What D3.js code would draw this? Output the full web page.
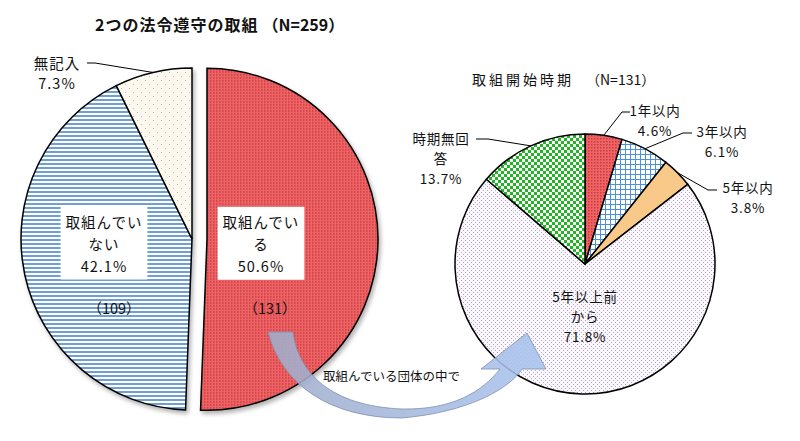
<!DOCTYPE html>
<html><head><meta charset="utf-8">
<script src="https://cdn.jsdelivr.net/npm/d3@7"></script>
<style>
body{margin:0;background:#fff;}
svg{display:block;font-family:"Noto Sans CJK JP","Noto Sans",sans-serif;}
</style>
</head><body>
<script>
// ---------- data ----------
const leftTitle = "2つの法令遵守の取組";
const leftN = "（N=259）";
const leftCategories = ["取組んでいる", "取組んでいない", "無記入"];
const leftValues = [50.6, 42.1, 7.3];
const leftCounts = ["（131）", "（109）", null];

const rightTitle = "取組開始時期";
const rightN = "（N=131）";
const rightCategories = ["1年以内", "3年以内", "5年以内", "5年以上前から", "時期無回答"];
const rightValues = [4.6, 6.1, 3.8, 71.8, 13.7];

const arrowLabel = "取組んでいる団体の中で";

// ---------- setup ----------
const W = 800, H = 441;
const svg = d3.select("body").append("svg").attr("width", W).attr("height", H);
const defs = svg.append("defs");

function pat(id, w, h, build) {
  const p = defs.append("pattern").attr("id", id).attr("patternUnits", "userSpaceOnUse")
    .attr("width", w).attr("height", h);
  build(p);
}
pat("redDots", 3, 3, p => {
  p.append("rect").attr("width", 3).attr("height", 3).attr("fill", "#f06466");
  p.append("rect").attr("width", 1.5).attr("height", 1.5).attr("fill", "#c53b3e");
});
pat("blueStripes", 4, 4, p => {
  p.append("rect").attr("width", 4).attr("height", 4).attr("fill", "#ffffff");
  p.append("rect").attr("width", 4).attr("height", 2).attr("fill", "#6f9fd2");
});
pat("creamDots", 8, 8, p => {
  p.append("rect").attr("width", 8).attr("height", 8).attr("fill", "#fdf9f0");
  p.append("rect").attr("x", 1).attr("y", 1).attr("width", 1).attr("height", 1).attr("fill", "#cdb99a");
  p.append("rect").attr("x", 5).attr("y", 5).attr("width", 1).attr("height", 1).attr("fill", "#cdb99a");
});
pat("blueGrid", 5, 5, p => {
  p.append("rect").attr("width", 5).attr("height", 5).attr("fill", "#ffffff");
  p.append("rect").attr("width", 5).attr("height", 1).attr("fill", "#4d90dc");
  p.append("rect").attr("width", 1).attr("height", 5).attr("fill", "#4d90dc");
});
pat("lavDots", 4, 4, p => {
  p.append("rect").attr("width", 4).attr("height", 4).attr("fill", "#fbf8fd");
  p.append("rect").attr("x", 0).attr("y", 0).attr("width", 1).attr("height", 1).attr("fill", "#b3a3c9");
  p.append("rect").attr("x", 2).attr("y", 2).attr("width", 1).attr("height", 1).attr("fill", "#b3a3c9");
});
pat("greenCheck", 6, 6, p => {
  p.append("rect").attr("width", 6).attr("height", 6).attr("fill", "#22b523");
  p.append("rect").attr("width", 3).attr("height", 3).attr("fill", "#ffffff");
  p.append("rect").attr("x", 3).attr("y", 3).attr("width", 3).attr("height", 3).attr("fill", "#ffffff");
});

const shadow = defs.append("filter").attr("id", "shadow").attr("x", "-10%").attr("y", "-10%")
  .attr("width", "130%").attr("height", "130%");
shadow.append("feDropShadow").attr("dx", 2).attr("dy", 3).attr("stdDeviation", 2)
  .attr("flood-color", "#000").attr("flood-opacity", 0.3);

const grad = defs.append("linearGradient").attr("id", "arrowGrad")
  .attr("gradientUnits", "userSpaceOnUse").attr("x1", 268).attr("x2", 546).attr("y1", 0).attr("y2", 0);
grad.append("stop").attr("offset", 0).attr("stop-color", "#a2adca");
grad.append("stop").attr("offset", 1).attr("stop-color", "#a8c3ee");

const fmt = v => d3.format(".1f")(v) + "%";
function wrap(s, n) { const out = []; for (let i = 0; i < s.length; i += n) out.push(s.slice(i, i + n)); return out; }

function textBlock(g, lines, cx, cy, lh, size, ls) {
  const t = g.append("text").attr("text-anchor", "middle").attr("font-size", size)
    .attr("letter-spacing", ls).attr("fill", "#111");
  lines.forEach((l, i) => {
    t.append("tspan").attr("x", cx).attr("y", cy + i * lh).attr("dominant-baseline", "central").text(l);
  });
  return t;
}

// ---------- titles ----------
svg.append("text").attr("x", 95).attr("y", 31).attr("font-size", 16).attr("font-weight", "bold")
  .attr("letter-spacing", 1).attr("fill", "#111")
  .text(leftTitle).append("tspan").attr("letter-spacing", 0).attr("dx", 4).text(leftN);
svg.append("text").attr("x", 472).attr("y", 85).attr("font-size", 14).attr("fill", "#111")
  .call(t => {
    t.append("tspan").attr("letter-spacing", 3).text(rightTitle);
    t.append("tspan").attr("dx", 12).text(rightN);
  });

// ---------- left pie ----------
const L = { cx: 192, cy: 239, r: 171, explode: 15 };
const pie = d3.pie().sort(null).value(d => d);
const leftArcs = pie(leftValues);
const arcL = d3.arc().innerRadius(0).outerRadius(L.r);
const leftFills = ["url(#redDots)", "url(#blueStripes)", "url(#creamDots)"];
const gL = svg.append("g").attr("transform", `translate(${L.cx},${L.cy})`);

const slicesL = gL.append("g").attr("filter", "url(#shadow)");
const offsets = leftArcs.map((a, i) => {
  const mid = (a.startAngle + a.endAngle) / 2;
  const off = i === 0 ? L.explode : 0;
  return [off * Math.sin(mid), -off * Math.cos(mid)];
});
leftArcs.forEach((a, i) => {
  slicesL.append("path").attr("d", arcL(a))
    .attr("transform", `translate(${offsets[i][0]},${offsets[i][1]})`)
    .attr("fill", leftFills[i]).attr("stroke", "#000").attr("stroke-width", 1.5)
    .attr("stroke-linejoin", "miter");
});

// inner labels (boxed) for the two large slices
const leftInner = [{ dx: 54, dy: -18, cdy: 68, cdx: 9 }, { dx: -88, dy: -18, cdy: 68, cdx: 10 }];
leftInner.forEach((p, i) => {
  const ox = offsets[i][0], oy = offsets[i][1];
  const lines = wrap(leftCategories[i], 5).concat([fmt(leftValues[i])]);
  const lg = gL.append("g");
  const t = textBlock(lg, lines, p.dx + ox, p.dy + oy, 22, 14.5, 1);
  const bb = t.node().getBBox();
  lg.insert("rect", "text").attr("x", bb.x - 5).attr("y", bb.y - 4)
    .attr("width", bb.width + 10).attr("height", bb.height + 8).attr("fill", "#fff");
  gL.append("text").attr("x", p.dx + ox + p.cdx).attr("y", p.dy + oy + p.cdy + 18).attr("dominant-baseline", "central")
    .attr("text-anchor", "middle").attr("font-size", 14.5).attr("fill", "#111").text(leftCounts[i]);
});

// outside label for 無記入
{
  const a = leftArcs[2];
  const edge = d3.arc().innerRadius(L.r).outerRadius(L.r).centroid(a);
  gL.append("polyline").attr("points", [edge, [-97, -176], [-105, -176]].map(p => p.join(",")).join(" "))
    .attr("fill", "none").attr("stroke", "#000").attr("stroke-width", 1);
  textBlock(gL, [leftCategories[2], fmt(leftValues[2])], -135, -177, 20, 14.5, 1);
}

// ---------- right pie ----------
const R = { cx: 585, cy: 264, r: 130 };
const rightArcs = pie(rightValues);
const arcR = d3.arc().innerRadius(0).outerRadius(R.r);
const rightFills = ["url(#redDots)", "url(#blueGrid)", "#f9c98a", "url(#lavDots)", "url(#greenCheck)"];
const gR = svg.append("g").attr("transform", `translate(${R.cx},${R.cy})`);
rightArcs.forEach((a, i) => {
  gR.append("path").attr("d", arcR(a)).attr("fill", rightFills[i])
    .attr("stroke", "#000").attr("stroke-width", 1.5);
});
const edgeArcR = d3.arc().innerRadius(R.r).outerRadius(R.r);
const rightOut = [
  { i: 0, tx: 70, ty: -154, elbow: [37, -152], end: [45, -152] },
  { i: 1, tx: 137, ty: -133, elbow: [98, -131], end: [107, -131] },
  { i: 2, tx: 163, ty: -77, elbow: [123, -74], end: [132, -74] },
  { i: 4, tx: -144, ty: -126, elbow: [-97, -125], end: [-109, -125] }
];
rightOut.forEach(o => {
  const edge = edgeArcR.centroid(rightArcs[o.i]);
  gR.append("polyline").attr("points", [edge, o.elbow, o.end].map(p => p.join(",")).join(" "))
    .attr("fill", "none").attr("stroke", "#000").attr("stroke-width", 1);
  const lines = wrap(rightCategories[o.i], 4).concat([fmt(rightValues[o.i])]);
  textBlock(gR, lines, o.tx, o.ty, 20, 13.5, 0.8);
});
textBlock(gR, wrap(rightCategories[3], 5).concat([fmt(rightValues[3])]), 0, 32, 20, 13.5, 0.8);

// ---------- arrow ----------
svg.append("path")
  .attr("d", "M268,332 L293,332 C298,372 330,406 402,409 C452,410 482,392 500,369 L481,369 L527,333 L546,369 L522,369 C510,388 470,412 402,418 C330,418 282,385 268,332 Z")
  .attr("fill", "url(#arrowGrad)").attr("fill-opacity", 0.88)
  .attr("stroke", "#7f8fb6").attr("stroke-width", 0.8);
svg.append("text").attr("x", 323).attr("y", 375).attr("dominant-baseline", "central")
  .attr("font-size", 12.5).attr("fill", "#111").text(arrowLabel);
</script>
</body></html>
